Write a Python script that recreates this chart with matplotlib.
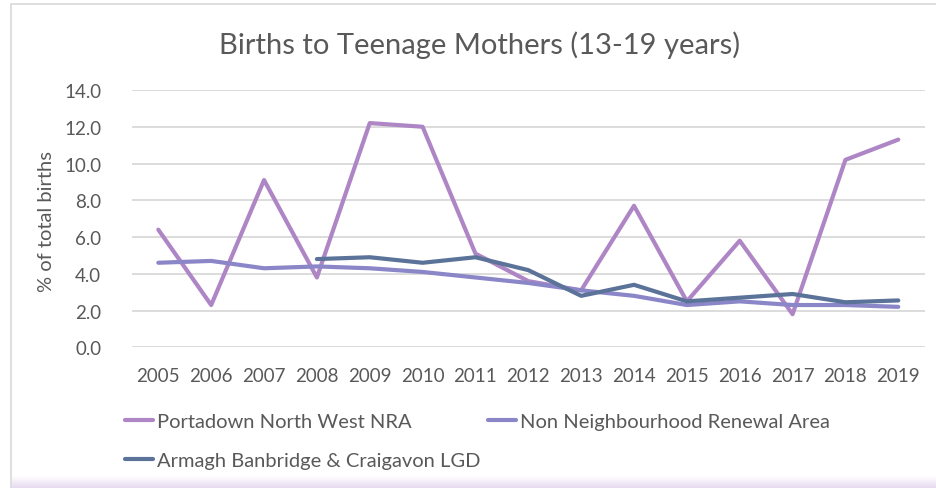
import numpy as np
import matplotlib.pyplot as plt
from matplotlib.patches import Rectangle
from matplotlib.colors import LinearSegmentedColormap

plt.rcParams['font.family'] = ['Lato', 'DejaVu Sans']

# Data

years = ['2005', '2006', '2007', '2008', '2009', '2010', '2011', '2012',
         '2013', '2014', '2015', '2016', '2017', '2018', '2019']
portadown = [6.4, 2.3, 9.1, 3.8, 12.2, 12.0, 5.1, 3.6,
             3.1, 7.7, 2.5, 5.8, 1.8, 10.2, 11.3]
non_nra = [4.6, 4.7, 4.3, 4.4, 4.3, 4.1, 3.8, 3.5,
           3.1, 2.8, 2.3, 2.5, 2.3, 2.3, 2.2]
abc_lgd = [np.nan, np.nan, np.nan, 4.8, 4.9, 4.6, 4.9, 4.2,
           2.8, 3.4, 2.5, 2.7, 2.9, 2.45, 2.55]
y_ticks = [0, 2, 4, 6, 8, 10, 12, 14]

# Layout

W, H = 937, 489
TXT = '#595959'

fig = plt.figure(figsize=(W / 100, H / 100), dpi=100)

# chart border and bottom shade
fig.patches.append(Rectangle((11 / W, -0.1), 1.2, (H - 5) / H + 0.1,
                             transform=fig.transFigure, fill=False,
                             edgecolor='#D9D9D9', linewidth=1.2))
shade = fig.add_axes([12 / W, 0, 1, 12 / H])
shade.imshow(np.linspace(0, 1, 50).reshape(-1, 1), aspect='auto',
             cmap=LinearSegmentedColormap.from_list('sh', ['#FFFFFF', '#E6DAF0']),
             extent=(0, 1, 0, 1))
shade.axis('off')

ax = fig.add_axes([131.9 / W, (H - 348.3) / H,
                   (924.7 - 131.9) / W, (348.3 - 91) / H])

x = np.arange(len(years))
l1, = ax.plot(x, portadown, color='#AE86C6', lw=3,
              solid_capstyle='round', label='Portadown North West NRA')
l2, = ax.plot(x, non_nra, color='#8A86C8', lw=3,
              solid_capstyle='round', label='Non Neighbourhood Renewal Area')
l3, = ax.plot(x, abc_lgd, color='#5B7399', lw=3,
              solid_capstyle='round', label='Armagh Banbridge & Craigavon LGD')

ax.set_xlim(-0.5, len(years) - 0.5)
ax.set_ylim(0, 14)
ax.set_xticks(x)
ax.set_xticklabels(years)
ax.set_yticks(y_ticks)
ax.set_yticklabels([f'{v:.1f}' for v in y_ticks])
ax.tick_params(length=0, labelsize=13.5, colors=TXT)
ax.tick_params(axis='x', pad=14)
ax.tick_params(axis='y', pad=22)
ax.grid(axis='y', color='#D9D9D9', lw=1.3)
ax.set_axisbelow(True)
for s in ax.spines.values():
    s.set_visible(False)

ax.set_ylabel('% of total births', fontsize=14.5, color=TXT)
ax.yaxis.set_label_coords((55 - 131.9) / 792.8, (348.3 - 222) / 257.3)

fig.text(480 / W, 1 - 45 / H, 'Births to Teenage Mothers (13-19 years)',
         ha='center', va='center', fontsize=21, color=TXT)

leg_kw = dict(frameon=False, fontsize=14.5, handlelength=1.4,
              handletextpad=0.2, borderpad=0, borderaxespad=0,
              labelcolor=TXT, loc='center left')
leg1 = fig.legend([l1, l3], [l1.get_label(), l3.get_label()],
                  bbox_to_anchor=(125 / W, 1 - 442 / H),
                  labelspacing=1.1, **leg_kw)
leg2 = fig.legend([l2], [l2.get_label()],
                  bbox_to_anchor=(488 / W, 1 - 422 / H), **leg_kw)

fig.savefig('out.png', dpi=100)
